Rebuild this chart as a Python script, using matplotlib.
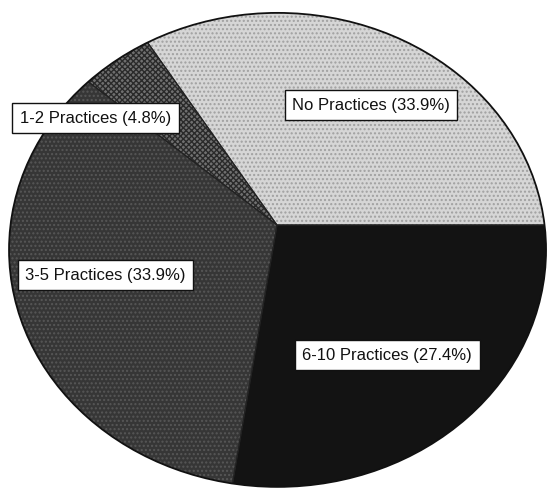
import matplotlib
matplotlib.use("Agg")
import matplotlib.pyplot as plt
from matplotlib.patches import Ellipse
from matplotlib.path import Path
from matplotlib.transforms import Affine2D

# Share of respondents by number of practices adopted
categories = ["No Practices", "1-2 Practices", "3-5 Practices", "6-10 Practices"]
shares = [33.9, 4.8, 33.9, 27.4]
labels = [f"{c} ({v}%)" for c, v in zip(categories, shares)]

face_colors = ["#d6d6d6", "#707070", "#363636", "#131313"]
hatch_colors = ["#a0a0a0", "#2a2a2a", "#575757", "#131313"]
hatches = ["....", "xxxxxx", "....", None]

# label box centres (axes-data units)
label_pos = [(0.350, 0.506), (-0.676, 0.451), (-0.639, -0.211), (0.411, -0.549)]

plt.rcParams["font.family"] = ["Liberation Sans", "DejaVu Sans"]
plt.rcParams["hatch.linewidth"] = 1.0

fig = plt.figure(figsize=(5.47, 4.90), dpi=100)
ax = fig.add_axes([0, 0, 1, 1])

pie_kw = dict(startangle=0, counterclock=True, radius=1.5, frame=True)
# base fills
wedges, _ = ax.pie(shares, colors=face_colors,
                   wedgeprops=dict(linewidth=0, edgecolor="none"), **pie_kw)
# texture layer
tex, _ = ax.pie(shares, colors=["none"] * 4, wedgeprops=dict(linewidth=0), **pie_kw)
# separator lines
sep, _ = ax.pie(shares, colors=["none"] * 4,
                wedgeprops=dict(linewidth=0.8, edgecolor="#222222", fill=False),
                **pie_kw)

# stretch to an ellipse
ax.set_aspect("auto")
ax.set_xlim(-277 / 268.5, 270 / 268.5)
ax.set_ylim(-265 / 237, 225 / 237)
ax.axis("off")

cx, cy = 0.002, -0.105
clip_path = Path.unit_circle().transformed(Affine2D().translate(cx, cy))

for w, t, s, hc, h in zip(wedges, tex, sep, hatch_colors, hatches):
    if h:
        t.set_hatch(h)
        t.set_edgecolor(hc)
        t.set_linewidth(0)
        t.set_facecolor("none")
    for p in (w, t, s):
        p.set_clip_on(True)
        p.set_clip_path(clip_path, ax.transData)

# outer boundary of the pie
ax.add_patch(Ellipse((cx, cy), 2.0, 2.0, facecolor="none",
                     edgecolor="#111111", linewidth=1.3, zorder=5))

for text, (x, y) in zip(labels, label_pos):
    ax.text(x, y, text, ha="center", va="center", fontsize=12, color="#111111",
            zorder=10,
            bbox=dict(boxstyle="square,pad=0.45", facecolor="white",
                      edgecolor="#111111", linewidth=1.0))

fig.savefig("out.png", dpi=100, facecolor="white")
